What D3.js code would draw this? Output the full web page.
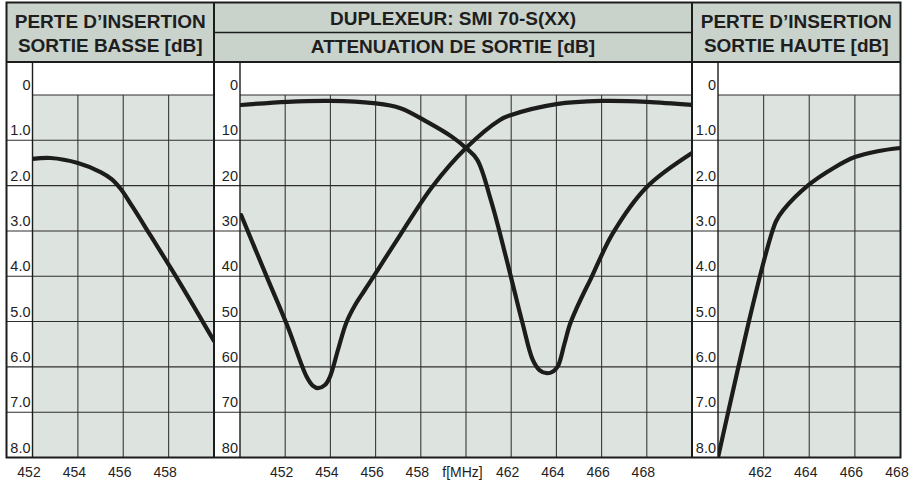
<!DOCTYPE html>
<html><head><meta charset="utf-8">
<script src="https://cdn.jsdelivr.net/npm/d3@7"></script>
<style>
body{margin:0;background:#fff}
svg{display:block}
text{font-family:"Liberation Sans",Arial,Helvetica,sans-serif;fill:#1e1e1e}
</style>
</head><body>
<svg id="c" width="910" height="483"></svg>
<script>
// ---- data ----
const lowFreq = [452.0, 452.8, 454.0, 455.0, 455.5, 455.9, 456.4, 457.2, 458.5, 460.0];
const lowLoss = [1.41, 1.39, 1.50, 1.70, 1.86, 2.08, 2.46, 3.10, 4.15, 5.43];

const midFreqA = [450.05, 451.2, 452.1, 452.95, 453.23, 453.45, 453.76, 453.98, 454.35, 454.7, 455.1, 455.5, 455.8, 457.1, 458.5, 460.0, 461.5, 462.0, 464.0, 466.0, 468.0, 470.0];
const midAttA  = [26.5, 40.3, 51.0, 62.2, 64.2, 64.7, 64.0, 62.2, 56.0, 50.3, 46.3, 43.2, 40.9, 30.8, 20.3, 11.7, 5.5, 4.4, 2.0, 1.3, 1.5, 2.2];

const midFreqB = [450.05, 452.1, 454.0, 455.9, 457.1, 458.3, 459.4, 460.0, 460.5, 461.1, 461.5, 462.1, 462.5, 462.95, 463.25, 463.58, 463.85, 464.07, 464.35, 464.6, 464.9, 465.2, 465.5, 466.5, 468.0, 470.0];
const midAttB  = [2.2, 1.5, 1.3, 1.8, 2.9, 6.0, 9.3, 11.7, 14.3, 23.2, 30.5, 42.4, 50.3, 58.4, 60.7, 61.4, 61.0, 59.8, 55.0, 50.6, 47.0, 43.8, 40.8, 30.5, 20.3, 12.8];

const highFreq = [460.0, 460.66, 461.32, 461.94, 462.3, 462.55, 462.86, 463.96, 465.07, 466.0, 467.0, 468.0];
const highLoss = [8.0, 6.52, 5.07, 3.80, 3.14, 2.78, 2.54, 1.99, 1.61, 1.37, 1.24, 1.17];

const lossTicks  = [0, 1, 2, 3, 4, 5, 6, 7, 8];
const lossLabels = ["0", "1.0", "2.0", "3.0", "4.0", "5.0", "6.0", "7.0", "8.0"];
const attTicks   = [0, 10, 20, 30, 40, 50, 60, 70, 80];
const attLabels  = ["0", "10", "20", "30", "40", "50", "60", "70", "80"];

const lowXTicks  = [452, 454, 456, 458];
const lowXLabels = ["452", "454", "456", "458"];
const midXTicks  = [452, 454, 456, 458, 460, 462, 464, 466, 468];
const midXLabels = ["452", "454", "456", "458", "f[MHz]", "462", "464", "466", "468"];
const highXTicks  = [462, 464, 466, 468];
const highXLabels = ["462", "464", "466", "468"];

const headerLeft  = ["PERTE D\u2019INSERTION", "SORTIE BASSE [dB]"];
const headerMid   = ["DUPLEXEUR: SMI 70-S(XX)", "ATTENUATION DE SORTIE [dB]"];
const headerRight = ["PERTE D\u2019INSERTION", "SORTIE HAUTE [dB]"];

// ---- layout ----
const TOP = 2.5, HEAD_BOT = 62, GRID_TOP = 95, BOT = 457.5;
const HEAD_FILL = "#c9d3cc", GRID_FILL = "#dde3df", INK = "#1c1c1c";

const panels = [
  {x0: 6.5, col: 32.5, x1: 214, xDom: [452, 460], yDom: [0, 8],
   yTicks: lossTicks, yLabels: lossLabels, xTicks: lowXTicks, xLabels: lowXLabels,
   series: [[lowFreq, lowLoss]], header: headerLeft, headBase: [28, 52]},
  {x0: 214, col: 240, x1: 692, xDom: [450, 470], yDom: [0, 80],
   yTicks: attTicks, yLabels: attLabels, xTicks: midXTicks, xLabels: midXLabels,
   series: [[midFreqA, midAttA], [midFreqB, midAttB]], header: headerMid, headBase: [25, 53]},
  {x0: 692, col: 718, x1: 900.5, xDom: [460, 468], yDom: [0, 8],
   yTicks: lossTicks, yLabels: lossLabels, xTicks: highXTicks, xLabels: highXLabels,
   series: [[highFreq, highLoss]], header: headerRight, headBase: [28, 52]}
];

const svg = d3.select("#c");
const defs = svg.append("defs");
svg.append("rect").attr("width", 910).attr("height", 483).attr("fill", "#fff");

panels.forEach((p, i) => {
  const x = d3.scaleLinear().domain(p.xDom).range([p.col, p.x1]);
  const y = d3.scaleLinear().domain(p.yDom).range([GRID_TOP, BOT]);
  const g = svg.append("g");

  g.append("rect").attr("x", p.col).attr("y", GRID_TOP)
    .attr("width", p.x1 - p.col).attr("height", BOT - GRID_TOP).attr("fill", GRID_FILL);

  const vx = d3.range(p.xDom[0] + 2, p.xDom[1], 2);
  g.selectAll(".vg").data(vx).join("line")
    .attr("x1", d => x(d)).attr("x2", d => x(d))
    .attr("y1", GRID_TOP).attr("y2", BOT)
    .attr("stroke", "#3a3a3a").attr("stroke-width", 1.1);

  g.selectAll(".hg").data(p.yTicks.filter(d => d > p.yDom[0] && d < p.yDom[1])).join("line")
    .attr("x1", p.x0).attr("x2", p.x1)
    .attr("y1", d => y(d)).attr("y2", d => y(d))
    .attr("stroke", "#2e2e2e").attr("stroke-width", 1.1);
  g.append("line").attr("x1", p.col).attr("x2", p.x1)
    .attr("y1", y(p.yDom[0])).attr("y2", y(p.yDom[0]))
    .attr("stroke", "#2e2e2e").attr("stroke-width", 1.1);

  g.append("line").attr("x1", p.col).attr("x2", p.col)
    .attr("y1", HEAD_BOT).attr("y2", BOT)
    .attr("stroke", INK).attr("stroke-width", 1.4);

  g.selectAll(".yl").data(p.yTicks).join("text")
    .attr("x", p.col - 2).attr("y", d => y(d) - 5)
    .attr("text-anchor", "end").attr("font-size", 14.5)
    .text((d, k) => p.yLabels[k]);

  g.selectAll(".xl").data(p.xTicks).join("text")
    .attr("x", d => x(d) - 3.5).attr("y", 477)
    .attr("text-anchor", "middle").attr("font-size", 14)
    .text((d, k) => p.xLabels[k]);

  const cid = "clip" + i;
  defs.append("clipPath").attr("id", cid).append("rect")
    .attr("x", p.col).attr("y", GRID_TOP - 6).attr("width", p.x1 - p.col).attr("height", BOT - GRID_TOP + 6);
  const line = d3.line().x(d => x(d[0])).y(d => y(d[1])).curve(d3.curveCatmullRom.alpha(0.5));
  p.series.forEach(([fx, fy]) => {
    g.append("path").datum(fx.map((f, k) => [f, fy[k]]))
      .attr("d", line).attr("fill", "none")
      .attr("stroke", INK).attr("stroke-width", 4.2)
      .attr("stroke-linecap", "round").attr("stroke-linejoin", "round")
      .attr("clip-path", `url(#${cid})`);
  });

  g.append("rect").attr("x", p.x0).attr("y", TOP)
    .attr("width", p.x1 - p.x0).attr("height", HEAD_BOT - TOP).attr("fill", HEAD_FILL);
  const cx = (p.x0 + p.x1) / 2;
  p.header.forEach((t, k) => {
    g.append("text").attr("x", cx).attr("y", p.headBase[k])
      .attr("text-anchor", "middle").attr("font-size", 19).attr("font-weight", "bold")
      .text(t);
  });
});

svg.append("line").attr("x1", 214).attr("x2", 692).attr("y1", 32.5).attr("y2", 32.5)
  .attr("stroke", INK).attr("stroke-width", 1.5);
svg.append("line").attr("x1", 6.5).attr("x2", 900.5).attr("y1", HEAD_BOT).attr("y2", HEAD_BOT)
  .attr("stroke", INK).attr("stroke-width", 2);
[214, 692].forEach(sx => svg.append("line").attr("x1", sx).attr("x2", sx)
  .attr("y1", TOP).attr("y2", BOT).attr("stroke", INK).attr("stroke-width", 2));
svg.append("rect").attr("x", 6.5).attr("y", TOP).attr("width", 894).attr("height", BOT - TOP)
  .attr("fill", "none").attr("stroke", INK).attr("stroke-width", 2);
</script>
</body></html>
